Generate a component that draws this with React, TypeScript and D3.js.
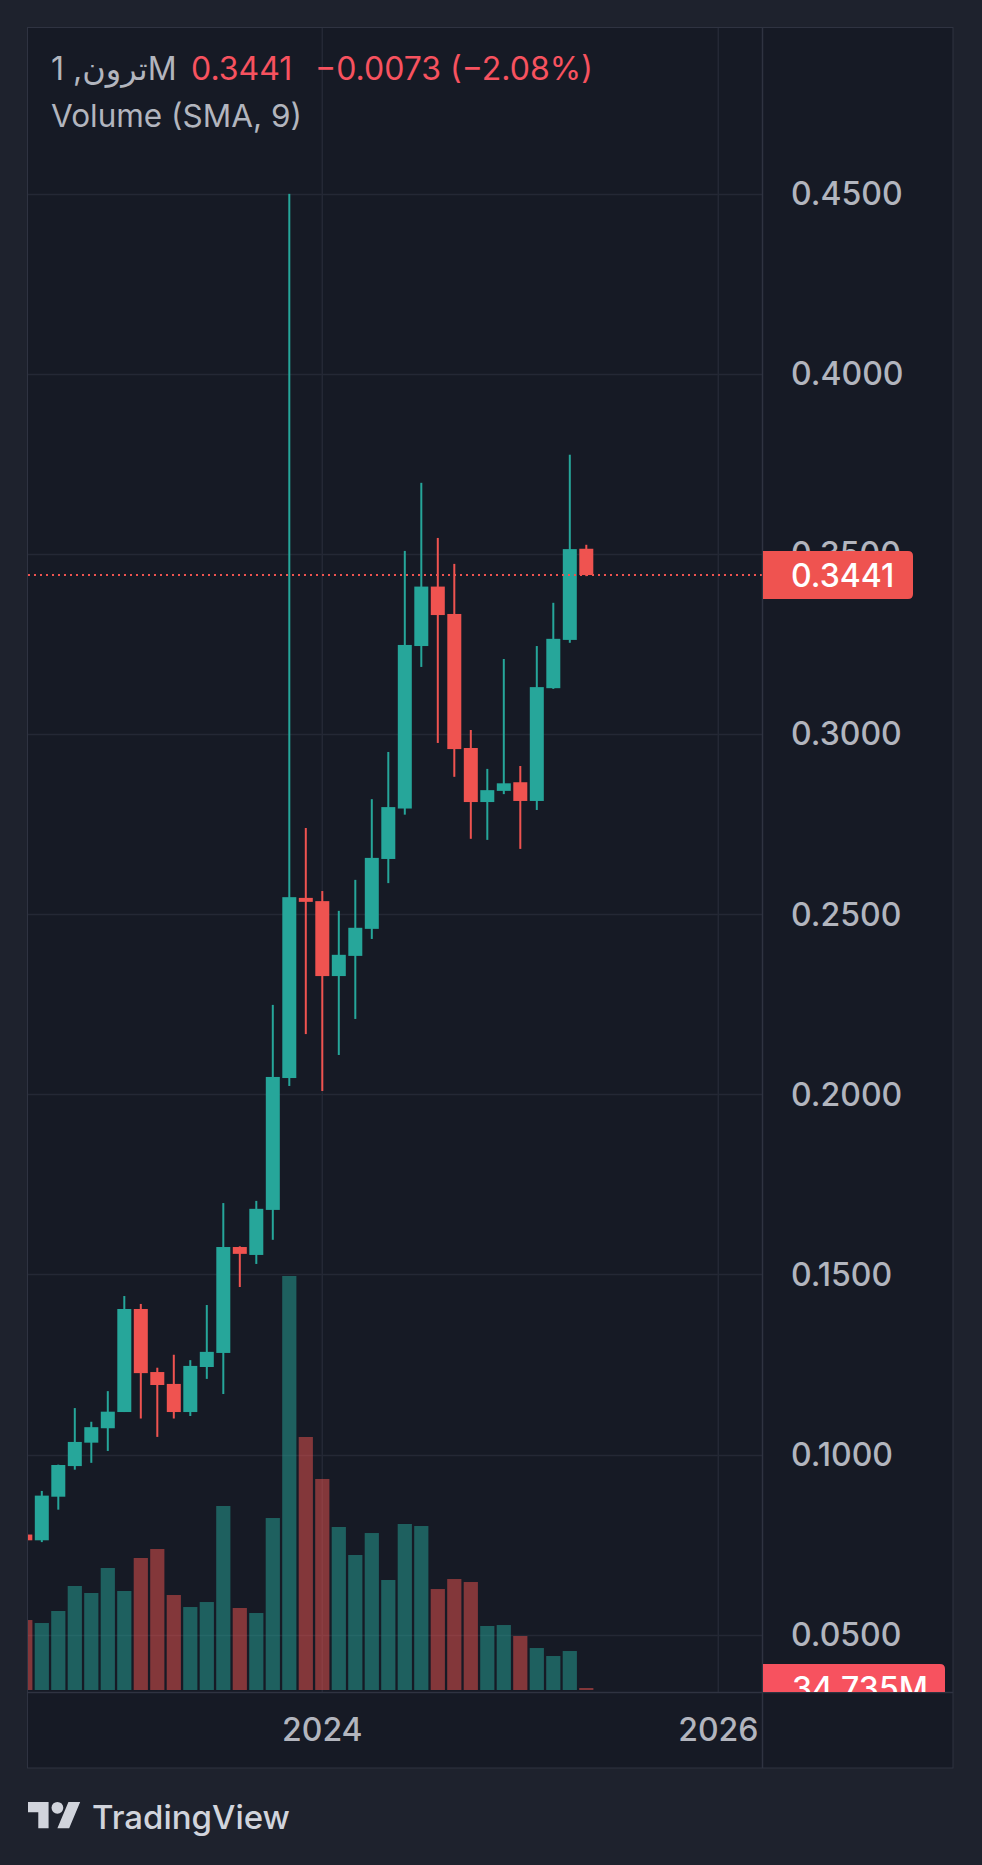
import React from "react";
import * as d3 from "d3";

// ---------- data ----------
const months = [
  "2022-07","2022-08","2022-09","2022-10","2022-11","2022-12",
  "2023-01","2023-02","2023-03","2023-04","2023-05","2023-06",
  "2023-07","2023-08","2023-09","2023-10","2023-11","2023-12",
  "2024-01","2024-02","2024-03","2024-04","2024-05","2024-06",
  "2024-07","2024-08","2024-09","2024-10","2024-11","2024-12",
  "2025-01","2025-02","2025-03","2025-04","2025-05",
];
const opens = [
  0.0778,0.0762,0.0883,0.0968,0.1033,0.1073,
  0.1118,0.1404,0.1229,0.1196,0.1118,0.1243,
  0.1282,0.1576,0.1554,0.1679,0.2045,0.2545,
  0.2536,0.2328,0.2384,0.2459,0.2653,0.2793,
  0.3244,0.3409,0.3333,0.2961,0.2811,0.2842,
  0.2866,0.2814,0.3127,0.3261,0.3514,
];
const highs = [
  0.0790,0.0899,0.0972,0.1129,0.1091,0.1176,
  0.1440,0.1418,0.1241,0.1277,0.1262,0.1415,
  0.1698,0.1578,0.1704,0.2248,0.4499,0.2739,
  0.2564,0.2509,0.2595,0.2819,0.2950,0.3508,
  0.3697,0.3544,0.3472,0.3011,0.2903,0.3208,
  0.2911,0.3244,0.3364,0.3775,0.3525,
];
const lows = [
  0.0755,0.0757,0.0847,0.0958,0.0977,0.1010,
  0.1118,0.1100,0.1049,0.1100,0.1107,0.1210,
  0.1168,0.1465,0.1529,0.1596,0.2023,0.2167,
  0.2009,0.2109,0.2209,0.2431,0.2586,0.2776,
  0.3186,0.2975,0.2881,0.2709,0.2706,0.2833,
  0.2681,0.2789,0.3125,0.3253,0.3438,
];
const closes = [
  0.0762,0.0886,0.0971,0.1035,0.1076,0.1119,
  0.1404,0.1226,0.1193,0.1118,0.1246,0.1285,
  0.1576,0.1557,0.1682,0.2048,0.2547,0.2534,
  0.2328,0.2387,0.2462,0.2656,0.2797,0.3247,
  0.3409,0.3330,0.2958,0.2811,0.2844,0.2863,
  0.2814,0.3130,0.3264,0.3513,0.3441,
];
// volume in millions
const volumes = [
  1217,1165,1374,1809,1687,2122,
  1722,2296,2452,1652,1443,1530,
  3200,1426,1339,2991,7200,4400,
  3670,2835,2348,2730,1913,2887,
  2852,1756,1930,1878,1113,1130,
  939,730,591,678,34.735,
];
const priceTicks = [0.05,0.1,0.15,0.2,0.25,0.3,0.35,0.4,0.45];
const yearTicks = [2024, 2026];
const lastPrice = 0.3441;
const legendSymbol = "ترون, 1M";
const legendPrice = "0.3441";
const legendChange = "\u22120.0073 (\u22122.08%)";
const volumeTitle = "Volume (SMA, 9)";
const volumeLabel = "34.735M";

// ---------- styles ----------
const BG = "#1e222d";
const PANE = "#161a25";
const GRID = "#242835";
const BORDER = "#2f3341";
const UP = "#26a69a";
const DOWN = "#ef5350";
const UP_VOL = "rgba(38,166,154,0.5)";
const DOWN_VOL = "rgba(239,83,80,0.5)";
const TEXT = "#b2b5be";
const FONT = "Inter, Roboto, 'DejaVu Sans', sans-serif";

const PL = 28, PT = 28, PR = 762, PB = 1692, FR = 953, FB = 1768;

function monthIndex(m: string) {
  const [y, mo] = m.split("-").map(Number);
  return (y - 2024) * 12 + (mo - 1);
}

export default function App() {
  const x = d3.scaleLinear().domain([0, 24]).range([322.3, 718.3]);
  const y = d3.scaleLinear().domain([0.05, 0.45]).range([1634.7, 193.5]);
  const yv = d3.scaleLinear().domain([0, 7200]).range([1690, 1276]);
  const bodyW = 14;
  const fmt = d3.format(".4f");

  const bars = months.map((m, i) => ({
    cx: x(monthIndex(m)),
    o: opens[i], h: highs[i], l: lows[i], c: closes[i], v: volumes[i],
  }));

  const yLast = y(lastPrice);
  const yVolLast = yv(volumes[volumes.length - 1]);

  return (
    <svg width={982} height={1865} style={{ position: "absolute", left: 0, top: 0, display: "block" }}
      fontFamily={FONT}>
      <defs>
        <clipPath id="pane"><rect x={PL} y={PT} width={PR - PL} height={PB - PT} /></clipPath>
        <clipPath id="axis"><rect x={PR} y={PT} width={FR - PR} height={PB - PT} /></clipPath>
      </defs>
      <rect x={0} y={0} width={982} height={1865} fill={BG} />
      <rect x={27.5} y={27.5} width={FR - 27.5} height={FB - 27.5} fill={PANE} stroke={BORDER} strokeWidth={1} />

      {/* grid */}
      <g clipPath="url(#pane)">
        {priceTicks.map((t) => (
          <line key={t} x1={PL} x2={PR} y1={Math.round(y(t)) + 0.5} y2={Math.round(y(t)) + 0.5} stroke={GRID} strokeWidth={1.5} />
        ))}
        {yearTicks.map((t) => (
          <line key={t} x1={x((t - 2024) * 12)} x2={x((t - 2024) * 12)} y1={PT} y2={PB} stroke={GRID} strokeWidth={1.5} />
        ))}
        {/* volume */}
        {bars.map((b, i) => (
          <rect key={"v" + i} x={b.cx - 7.1} width={14.2} y={yv(b.v)} height={Math.max(1.5, yv(0) - yv(b.v))}
            fill={b.c >= b.o ? UP_VOL : DOWN_VOL} />
        ))}
        {/* candles */}
        {bars.map((b, i) => {
          const col = b.c >= b.o ? UP : DOWN;
          const top = y(Math.max(b.o, b.c));
          const bot = y(Math.min(b.o, b.c));
          return (
            <g key={"c" + i}>
              <rect x={b.cx - 1} width={2} y={y(b.h)} height={y(b.l) - y(b.h)} fill={col} />
              <rect x={b.cx - bodyW / 2} width={bodyW} y={top} height={Math.max(1.5, bot - top)} fill={col} />
            </g>
          );
        })}
        {/* last price line */}
        <line x1={PL} x2={PR} y1={yLast} y2={yLast} stroke={DOWN} strokeWidth={2} strokeDasharray="2 4" />
      </g>

      {/* dividers */}
      <line x1={PR + 0.5} x2={PR + 0.5} y1={PT} y2={FB} stroke={BORDER} strokeWidth={1.5} />
      <line x1={PL} x2={FR} y1={PB + 0.5} y2={PB + 0.5} stroke={BORDER} strokeWidth={1.5} />

      {/* price axis */}
      <g clipPath="url(#axis)">
        {priceTicks.map((t) => (
          <text key={t} x={791} y={y(t) + 11.5} fontSize={32} fontWeight={500} fill={TEXT}>{fmt(t)}</text>
        ))}
        <path d={`M${PR + 1},${yLast - 24} H${913 - 5} Q913,${yLast - 24} 913,${yLast - 19} V${yLast + 19} Q913,${yLast + 24} ${913 - 5},${yLast + 24} H${PR + 1} Z`} fill={DOWN} />
        <text x={791} y={yLast + 11.5} fontSize={32} fontWeight={500} fill="#ffffff">{fmt(lastPrice)}</text>
        <path d={`M${PR + 1},${yVolLast - 24} H${945 - 5} Q945,${yVolLast - 24} 945,${yVolLast - 19} V${yVolLast + 19} Q945,${yVolLast + 24} ${945 - 5},${yVolLast + 24} H${PR + 1} Z`} fill="#f7525f" />
        <text x={792} y={yVolLast + 11.5} fontSize={32} fontWeight={500} fill="#ffffff">{volumeLabel}</text>
      </g>

      {/* time axis */}
      {yearTicks.map((t) => (
        <text key={t} x={x((t - 2024) * 12)} y={1740.5} fontSize={32} fontWeight={500} fill={TEXT} textAnchor="middle">{t}</text>
      ))}

      {/* legend */}
      <text x={51} y={80} fontSize={32} fill={TEXT}>{legendSymbol}</text>
      <text x={191} y={80} fontSize={32} fill="#f7525f">{legendPrice}</text>
      <text x={315} y={80} fontSize={32} fill="#f7525f">{legendChange}</text>
      <text x={51} y={127} fontSize={31.5} fill={TEXT}>{volumeTitle}</text>

      {/* TradingView logo */}
      <g transform="translate(28,1796) scale(1.47)" fill="#d1d4dc">
        <path d="M14 22H7V11H0V4h14v18zM28 22h-8l7.5-18h8L28 22z" />
        <circle cx={20} cy={8} r={4} />
      </g>
      <text x={92} y={1829} fontSize={33} fill="#d1d4dc" fontWeight={500}>TradingView</text>
    </svg>
  );
}
